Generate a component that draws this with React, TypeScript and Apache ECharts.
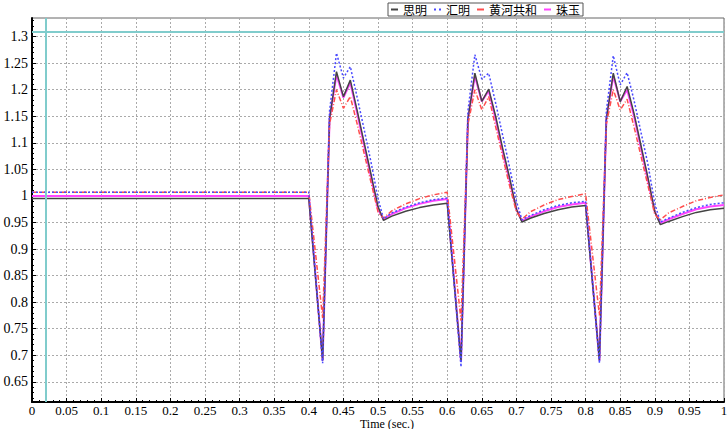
import React, { useEffect, useRef } from "react";
import * as echarts from "echarts";

const times = [0, 0.4, 0.42, 0.43, 0.44, 0.45, 0.46, 0.47, 0.48, 0.49, 0.5, 0.508, 0.52, 0.54, 0.56, 0.58, 0.6, 0.62, 0.63, 0.64, 0.65, 0.66, 0.67, 0.68, 0.69, 0.7, 0.708, 0.72, 0.74, 0.76, 0.78, 0.8, 0.82, 0.83, 0.84, 0.85, 0.86, 0.87, 0.88, 0.89, 0.9, 0.908, 0.92, 0.94, 0.96, 0.98, 1.0];

const siming = [0.995, 0.995, 0.69, 1.145, 1.234, 1.187, 1.218, 1.16, 1.10, 1.04, 0.98, 0.954, 0.962, 0.971, 0.978, 0.983, 0.986, 0.688, 1.145, 1.231, 1.178, 1.201, 1.15, 1.09, 1.035, 0.975, 0.951, 0.958, 0.967, 0.974, 0.979, 0.982, 0.69, 1.145, 1.231, 1.1775, 1.206, 1.155, 1.095, 1.035, 0.97, 0.946, 0.952, 0.961, 0.969, 0.974, 0.977];
const huiming = [1.007, 1.007, 0.685, 1.16, 1.269, 1.222, 1.2435, 1.185, 1.125, 1.063, 0.995, 0.957, 0.968, 0.979, 0.987, 0.993, 0.996, 0.678, 1.16, 1.266, 1.22, 1.231, 1.175, 1.115, 1.055, 0.99, 0.955, 0.963, 0.974, 0.982, 0.987, 0.99, 0.685, 1.16, 1.264, 1.209, 1.232, 1.18, 1.12, 1.06, 0.985, 0.951, 0.958, 0.969, 0.978, 0.984, 0.987];
const huanghe = [1.007, 1.007, 0.77, 1.135, 1.2, 1.165, 1.187, 1.135, 1.08, 1.025, 0.97, 0.958, 0.972, 0.985, 0.995, 1.002, 1.007, 0.765, 1.135, 1.2, 1.162, 1.187, 1.13, 1.075, 1.02, 0.97, 0.956, 0.97, 0.983, 0.993, 0.999, 1.004, 0.775, 1.135, 1.2, 1.162, 1.182, 1.13, 1.075, 1.02, 0.965, 0.955, 0.968, 0.98, 0.991, 0.997, 1.002];
const zhuyu = [1.0, 1.0, 0.69, 1.145, 1.228, 1.185, 1.213, 1.155, 1.095, 1.035, 0.975, 0.956, 0.966, 0.977, 0.985, 0.991, 0.994, 0.688, 1.145, 1.226, 1.178, 1.198, 1.145, 1.085, 1.03, 0.975, 0.953, 0.961, 0.971, 0.979, 0.984, 0.987, 0.69, 1.145, 1.226, 1.178, 1.2, 1.15, 1.09, 1.03, 0.97, 0.949, 0.956, 0.966, 0.975, 0.98, 0.983];

const seriesNames = ["思明", "汇明", "黄河共和", "珠玉"];
const legendIcons = ["rect", "path://M0,0h2v2h-2zM5,0h2v2h-2z", "rect", "rect"];
const yTicks = [0.65, 0.7, 0.75, 0.8, 0.85, 0.9, 0.95, 1, 1.05, 1.1, 1.15, 1.2, 1.25, 1.3];
const yMinorTicks = [0.62, 0.63, 0.64, 0.66, 0.67, 0.68, 0.69, 0.71, 0.72, 0.73, 0.74, 0.76, 0.77, 0.78, 0.79, 0.81, 0.82, 0.83, 0.84, 0.86, 0.87, 0.88, 0.89, 0.91, 0.92, 0.93, 0.94, 0.96, 0.97, 0.98, 0.99, 1.01, 1.02, 1.03, 1.04, 1.06, 1.07, 1.08, 1.09, 1.11, 1.12, 1.13, 1.14, 1.16, 1.17, 1.18, 1.19, 1.21, 1.22, 1.23, 1.24, 1.26, 1.27, 1.28, 1.29, 1.31, 1.32, 1.33];
const yRange = [0.612, 1.335];
const xRange = [0, 1];
const cursorX = 0.0173;
const cursorY = 1.3126;

const FONT = "Liberation Serif";

export default function App() {
  const ref = useRef<HTMLDivElement>(null);
  useEffect(() => {
    if (!ref.current) return;
    const chart = echarts.init(ref.current, null, { renderer: "svg" });
    const pair = (vals: number[]) => times.map((t, i) => [t, vals[i]]);
    chart.setOption({
      animation: false,
      backgroundColor: "#fff",
      textStyle: { fontFamily: FONT },
      legend: {
        data: seriesNames.map((n, i) => ({ name: n, icon: legendIcons[i] })),
        left: 388,
        top: 3,
        padding: [0, 3, 0, 3],
        itemGap: 7,
        itemWidth: 7,
        itemHeight: 2,
        borderColor: "#555",
        borderWidth: 1,
        backgroundColor: "#fff",
        textStyle: { fontSize: 12, color: "#000", fontFamily: "Noto Sans CJK SC", lineHeight: 13 },
      },
      grid: {
        left: 32,
        right: 3,
        top: 18,
        bottom: 27,
        outerBoundsMode: "none",
        containLabel: false,
        show: true,
        borderColor: "#666",
        borderWidth: 1,
      },
      xAxis: {
        type: "value",
        min: xRange[0],
        max: xRange[1],
        interval: 0.05,
        name: "Time (sec.)",
        nameLocation: "middle",
        nameGap: 16,
        nameMoveOverlap: false,
        nameTextStyle: { fontSize: 12, lineHeight: 11, color: "#000", fontFamily: FONT, padding: [0, 0, 0, 18] },
        axisLine: { lineStyle: { color: "#000", width: 2 } },
        axisTick: { inside: true, length: 4, lineStyle: { color: "#000" } },
        minorTick: { show: true, splitNumber: 5, length: 2, lineStyle: { color: "#000" } },
        axisLabel: { fontSize: 13, lineHeight: 13, color: "#000", margin: 2, fontFamily: FONT, showMaxLabel: true, hideOverlap: false },
        splitLine: { show: true, lineStyle: { color: "#aaa", type: [2, 2], width: 1 } },
      },
      yAxis: [
        {
          type: "value",
          min: yRange[0],
          max: yRange[1],
          axisLine: { show: true, lineStyle: { color: "#000", width: 2 } },
          axisTick: { show: true, inside: true, length: 4, customValues: yTicks, lineStyle: { color: "#000" } },
          axisLabel: { fontSize: 14, color: "#000", margin: 4, fontFamily: FONT, customValues: yTicks },
          splitLine: { show: true, lineStyle: { color: "#aaa", type: [2, 2], width: 1 } },
        },
        {
          type: "value",
          min: yRange[0],
          max: yRange[1],
          position: "left",
          axisLine: { show: false },
          axisTick: { show: true, inside: true, length: 2, customValues: yMinorTicks, lineStyle: { color: "#000" } },
          axisLabel: { show: false },
          splitLine: { show: false },
        },
      ],
      series: [
        {
          name: "珠玉",
          type: "line",
          symbol: "none",
          data: pair(zhuyu),
          lineStyle: { color: "#ff44ff", width: 2 },
          itemStyle: { color: "#ff44ff" },
          markLine: {
            silent: true,
            symbol: "none",
            label: { show: false },
            lineStyle: { color: "#80cccc", width: 2, type: "solid" },
            data: [{ xAxis: cursorX }, { yAxis: cursorY }],
          },
        },
        {
          name: "思明",
          type: "line",
          symbol: "none",
          data: pair(siming),
          lineStyle: { color: "#444", width: 1.5 },
          itemStyle: { color: "#444" },
        },
        {
          name: "黄河共和",
          type: "line",
          symbol: "none",
          data: pair(huanghe),
          lineStyle: { color: "#ff4d4d", width: 1.5, type: [5, 2, 1, 2] },
          itemStyle: { color: "#ff4d4d" },
        },
        {
          name: "汇明",
          type: "line",
          symbol: "none",
          data: pair(huiming),
          lineStyle: { color: "#4a4aff", width: 1.5, type: [2, 2] },
          itemStyle: { color: "#4a4aff" },
        },
      ],
    });
    return () => chart.dispose();
  }, []);
  return <div ref={ref} style={{ position: "fixed", left: 0, top: 0, width: 727, height: 429 }} />;
}
